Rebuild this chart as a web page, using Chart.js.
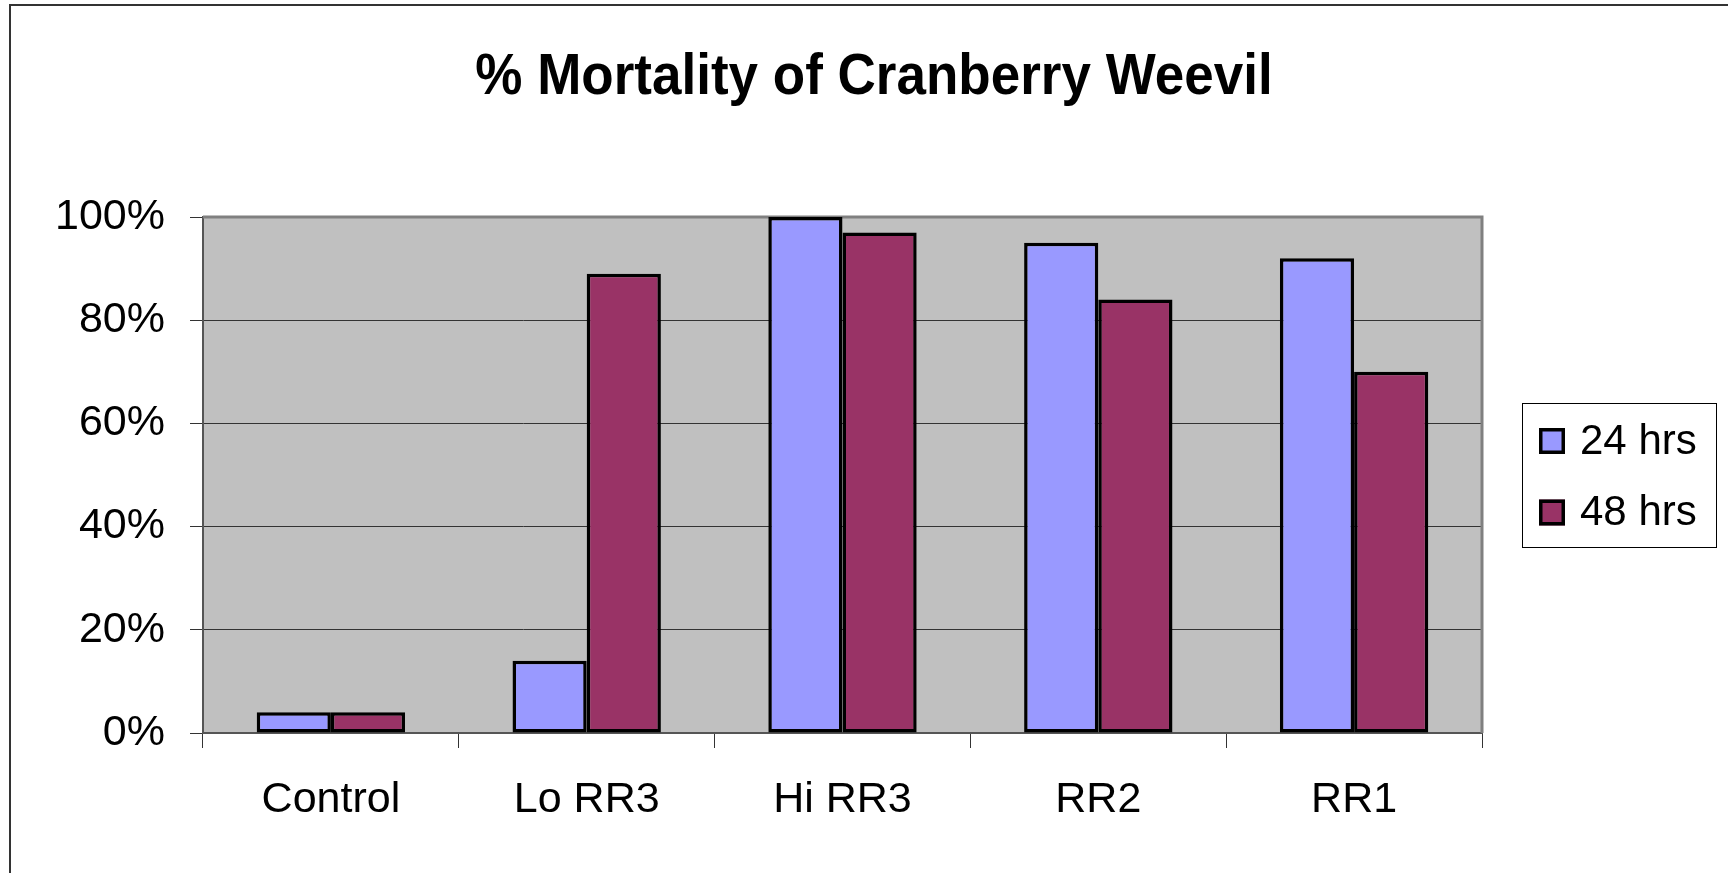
<!DOCTYPE html>
<html>
<head>
<meta charset="utf-8">
<script src="https://cdn.jsdelivr.net/npm/chart.js@4/dist/chart.umd.min.js"></script>
<style>
  html, body { margin: 0; padding: 0; background: #ffffff; }
  #c { display: block; }
</style>
</head>
<body>
<canvas id="c" width="1728" height="873"></canvas>
<script>
// ---- data ----
const categories = ['Control', 'Lo RR3', 'Hi RR3', 'RR2', 'RR1'];
const seriesNames = ['24 hrs', '48 hrs'];
const mortality24 = [4, 14, 100, 95, 92];
const mortality48 = [4, 89, 97, 84, 70];
const yTicks = [0, 20, 40, 60, 80, 100];
const chartTitle = '% Mortality of Cranberry Weevil';

const FONT = '"Liberation Sans", Arial, Helvetica, sans-serif';
Chart.defaults.font.family = FONT;
Chart.defaults.color = '#000000';

// frame + plot background + plot border + title + legend
const decor = {
  id: 'decor',
  beforeDraw(chart) {
    const ctx = chart.ctx;
    const a = chart.chartArea;
    ctx.save();
    ctx.fillStyle = '#ffffff';
    ctx.fillRect(0, 0, chart.width, chart.height);
    // outer frame (left + top visible)
    ctx.strokeStyle = '#333333';
    ctx.lineWidth = 2;
    ctx.beginPath();
    ctx.moveTo(10, chart.height + 2);
    ctx.lineTo(10, 5);
    ctx.lineTo(chart.width + 2, 5);
    ctx.stroke();
    // plot background
    ctx.fillStyle = '#C0C0C0';
    ctx.fillRect(a.left, a.top, a.right - a.left, a.bottom - a.top);
    // title (slightly condensed bold, like the original)
    ctx.fillStyle = '#000000';
    ctx.font = 'bold 57px ' + FONT;
    ctx.textAlign = 'center';
    ctx.textBaseline = 'alphabetic';
    ctx.translate(874, 94);
    ctx.scale(0.93, 1);
    ctx.fillText(chartTitle, 0, 0);
    ctx.restore();
  },
  beforeDatasetsDraw(chart) {
    const ctx = chart.ctx;
    const a = chart.chartArea;
    ctx.save();
    ctx.strokeStyle = '#808080';
    ctx.lineWidth = 3;
    ctx.beginPath();
    ctx.moveTo(a.left, a.top);
    ctx.lineTo(a.right, a.top);
    ctx.lineTo(a.right, a.bottom);
    ctx.stroke();
    ctx.restore();
  },
  afterDraw(chart) {
    // legend box
    const ctx = chart.ctx;
    ctx.save();
    const bx = 1522, by = 403, bw = 194, bh = 144;
    ctx.strokeStyle = '#000000';
    ctx.lineWidth = 1;
    ctx.strokeRect(bx + 0.5, by + 0.5, bw, bh);
    ctx.font = '42px ' + FONT;
    ctx.textBaseline = 'middle';
    ctx.textAlign = 'left';
    chart.data.datasets.forEach((ds, i) => {
      const cy = 441 + i * 71.5;
      ctx.fillStyle = ds.backgroundColor;
      ctx.fillRect(1539, cy - 13, 26, 26);
      ctx.strokeStyle = '#000000';
      ctx.lineWidth = 3.5;
      ctx.strokeRect(1540.75, cy - 11.25, 22.5, 22.5);
      ctx.fillStyle = '#000000';
      ctx.fillText(ds.label, 1580, cy + 1);
    });
    ctx.restore();
  }
};

new Chart(document.getElementById('c'), {
  type: 'bar',
  data: {
    labels: categories,
    datasets: [
      { label: seriesNames[0], data: mortality24, backgroundColor: '#9999FF',
        borderColor: '#000000', borderWidth: 3.5, borderSkipped: false },
      { label: seriesNames[1], data: mortality48, backgroundColor: '#993366',
        borderColor: '#000000', borderWidth: 3.5, borderSkipped: false }
    ]
  },
  options: {
    responsive: false,
    animation: false,
    devicePixelRatio: 1,
    layout: { padding: { left: 18, right: 246, top: 217, bottom: 0 } },
    datasets: { bar: { categoryPercentage: 0.58, barPercentage: 1.0 } },
    plugins: {
      legend: { display: false },
      tooltip: { enabled: false },
      title: { display: false }
    },
    scales: {
      x: {
        grid: { display: true, drawOnChartArea: false, drawTicks: true, tickLength: 15,
                color: '#333333', lineWidth: 1, offset: true },
        border: { display: true, color: '#555555', width: 2 },
        ticks: { font: { size: 43 }, color: '#000000', padding: 26, maxRotation: 0 },
        afterFit(scale) { scale.height = 873 - 733; }
      },
      y: {
        min: 0, max: 100,
        afterBuildTicks(scale) { scale.ticks = yTicks.map(v => ({ value: v })); },
        grid: { display: true, drawOnChartArea: true, drawTicks: true, tickLength: 13,
                color: '#333333', lineWidth: 1 },
        border: { display: true, color: '#555555', width: 2 },
        ticks: { font: { size: 43 }, color: '#000000', padding: 25,
                 callback: v => v + '%' },
        afterFit(scale) { scale.width = 203 - 18; }
      }
    }
  },
  plugins: [decor]
});
</script>
</body>
</html>
